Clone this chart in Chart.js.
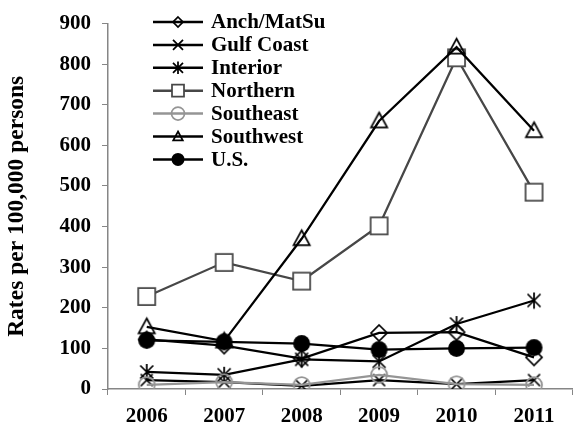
<!DOCTYPE html>
<html>
<head>
<meta charset="utf-8">
<script src="https://cdn.jsdelivr.net/npm/chart.js@4.4.0/dist/chart.umd.min.js"></script>
<style>
html, body { margin: 0; padding: 0; background: #fff; }
#wrap { width: 579px; height: 425px; }
</style>
</head>
<body>
<div id="wrap"><canvas id="ratesChart"></canvas></div>
<script>
// values
const years = ['2006', '2007', '2008', '2009', '2010', '2011'];
const anchMatSu = [122, 107, 75, 138, 140, 78];
const gulfCoast = [22, 17, 8, 22, 12, 22];
const interior = [42, 35, 73, 68, 160, 218];
const northern = [228, 312, 266, 402, 816, 485];
const southeast = [10, 17, 10, 35, 12, 10];
const southwest = [153, 118, 370, 660, 842, 636];
const us = [120, 116, 112, 97, 100, 102];

const seriesNames = ['Anch/MatSu', 'Gulf Coast', 'Interior', 'Northern', 'Southeast', 'Southwest', 'U.S.'];
const seriesValues = [anchMatSu, gulfCoast, interior, northern, southeast, southwest, us];
const seriesColors = ['#000000', '#000000', '#000000', '#474747', '#959595', '#000000', '#000000'];
const seriesMarkers = ['diamond', 'cross', 'star', 'square', 'circle', 'triangle', 'dot'];

const FONT = '"Liberation Serif", "Times New Roman", serif';
const AXIS_GRAY = '#868686';

// marker sizes for plot and legend
const plotSize = {diamond: 8, cross: 6, star: 6.5, square: 8.5, circle: 8, triangle: 8.5, dot: 8.5};
const legendSize = {diamond: 5, cross: 5, star: 5, square: 6, circle: 6.5, triangle: 5, dot: 6.5};

function drawMarker(ctx, kind, x, y, s, color, lw) {
    ctx.save();
    ctx.strokeStyle = color;
    ctx.fillStyle = color;
    ctx.lineWidth = lw;
    ctx.beginPath();
    if (kind === 'diamond') {
        ctx.moveTo(x, y - s); ctx.lineTo(x + s, y); ctx.lineTo(x, y + s); ctx.lineTo(x - s, y);
        ctx.closePath();
        ctx.stroke();
    } else if (kind === 'cross' || kind === 'star') {
        ctx.moveTo(x - s, y - s); ctx.lineTo(x + s, y + s);
        ctx.moveTo(x + s, y - s); ctx.lineTo(x - s, y + s);
        if (kind === 'star') { ctx.moveTo(x, y - s * 1.25); ctx.lineTo(x, y + s * 1.25); }
        ctx.stroke();
    } else if (kind === 'square') {
        ctx.rect(x - s, y - s, 2 * s, 2 * s);
        ctx.fillStyle = '#fff';
        ctx.fill();
        ctx.stroke();
    } else if (kind === 'circle') {
        ctx.arc(x, y, s, 0, Math.PI * 2);
        ctx.stroke();
    } else if (kind === 'dot') {
        ctx.arc(x, y, s, 0, Math.PI * 2);
        ctx.fill();
    } else if (kind === 'triangle') {
        ctx.moveTo(x, y - s); ctx.lineTo(x + s * 0.95, y + s * 0.75); ctx.lineTo(x - s * 0.95, y + s * 0.75);
        ctx.closePath();
        ctx.stroke();
    }
    ctx.restore();
}

function markerImage(kind, s, color, lw) {
    let c = document.createElement('canvas');
    let n = Math.ceil(2 * s * 1.25 + lw + 4);
    c.width = n;
    c.height = n;
    drawMarker(c.getContext('2d'), kind, n / 2, n / 2, s, color, lw);
    return c;
}

let datasets = seriesNames.map(function(name, i) {
    return {
        label: name,
        data: seriesValues[i],
        borderColor: seriesColors[i],
        backgroundColor: seriesColors[i],
        borderWidth: 2.25,
        pointStyle: markerImage(seriesMarkers[i], plotSize[seriesMarkers[i]], seriesColors[i], 1.75),
        marker: seriesMarkers[i],
        fill: false,
        tension: 0,
        order: seriesNames.length - 1 - i
    };
});

// legend drawn as in the spreadsheet: short line with the marker in the middle
const lineLegend = {
    id: 'lineLegend',
    afterDraw(chart) {
        let ctx = chart.ctx;
        chart.data.datasets.forEach(function(ds, i) {
            let y = 22 + i * 22.9;
            ctx.save();
            ctx.strokeStyle = ds.borderColor;
            ctx.lineWidth = 2.5;
            ctx.beginPath();
            ctx.moveTo(153, y);
            ctx.lineTo(203, y);
            ctx.stroke();
            drawMarker(ctx, ds.marker, 178, y, legendSize[ds.marker], ds.borderColor, 1.75);
            ctx.fillStyle = '#000';
            ctx.font = 'bold 21px ' + FONT;
            ctx.textBaseline = 'middle';
            ctx.textAlign = 'left';
            ctx.fillText(ds.label, 211, y + 1);
            ctx.restore();
        });
    }
};

const ctx = document.getElementById('ratesChart').getContext('2d');
window.chart = new Chart(ctx, {
    type: 'line',
    data: { labels: years, datasets: datasets },
    options: {
        responsive: true,
        maintainAspectRatio: false,
        animation: false,
        layout: { padding: { top: 23, right: 0, left: 0, bottom: 0 } },
        plugins: {
            legend: { display: false },
            tooltip: { enabled: false }
        },
        scales: {
            x: {
                offset: true,
                grid: { offset: true, drawOnChartArea: false, color: AXIS_GRAY, tickLength: 6 },
                border: { color: AXIS_GRAY, width: 1.5 },
                ticks: { color: '#000', font: { family: FONT, size: 21, weight: 'bold' }, padding: 9, maxRotation: 0 },
                afterFit: function(scale) { scale.height = 36; }
            },
            y: {
                min: 0,
                max: 900,
                ticks: { stepSize: 100, color: '#000', font: { family: FONT, size: 21, weight: 'bold' }, padding: 11 },
                grid: { drawOnChartArea: false, color: AXIS_GRAY, tickLength: 6 },
                border: { color: AXIS_GRAY, width: 1.5 },
                title: {
                    display: true,
                    text: 'Rates per 100,000 persons',
                    color: '#000',
                    font: { family: FONT, size: 23.5, weight: 'bold' },
                    padding: { top: 3, bottom: 0 }
                },
                afterFit: function(scale) { scale.width = 108; }
            }
        }
    },
    plugins: [lineLegend]
});
</script>
</body>
</html>
